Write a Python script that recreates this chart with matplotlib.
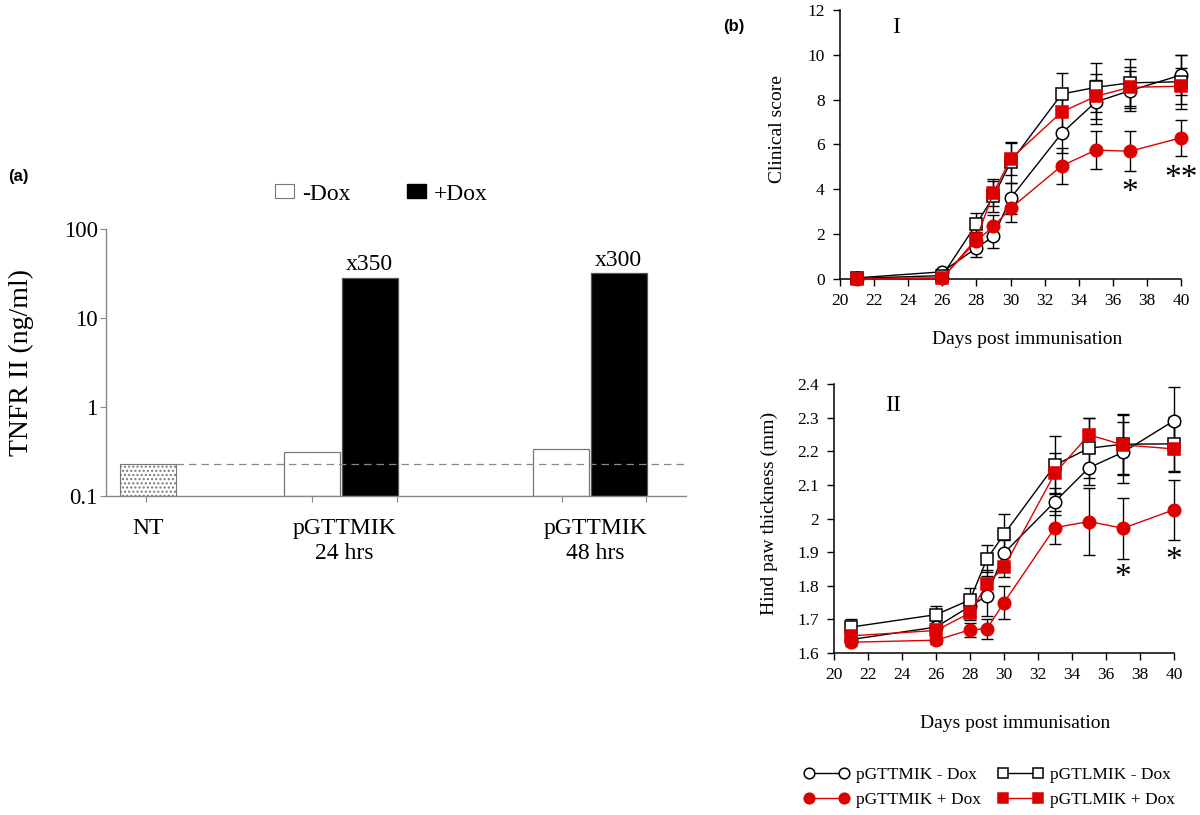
import numpy as np
import matplotlib
matplotlib.use("Agg")
import matplotlib.pyplot as plt
from matplotlib.patches import Patch
from matplotlib.ticker import FixedLocator, FuncFormatter, NullLocator

plt.rcParams["font.family"] = ["Liberation Serif", "DejaVu Serif"]

# ---- panel (a) data ----
groups = ["NT", "pGTTMIK\n24 hrs", "pGTTMIK\n48 hrs"]
nt_value = 0.227
minus_dox = [0.31, 0.336]      # 24 hrs, 48 hrs
plus_dox = [28.1, 31.7]
fold_labels = ["x350", "x300"]
baseline = 0.225

# ---- panel (b) data ----
days = [21, 26, 28, 29, 30, 33, 35, 37, 40]
series_names = ["pGTTMIK - Dox", "pGTTMIK + Dox", "pGTLMIK - Dox", "pGTLMIK + Dox"]

score_ttmik_minus = [0.05, 0.32, 1.38, 1.9, 3.6, 6.5, 7.9, 8.4, 9.1]
score_ttmik_minus_err = [0, 0, 0.4, 0.5, 0.7, 0.9, 1.0, 0.9, 0.9]
score_ttmik_plus = [0.0, 0.05, 1.7, 2.35, 3.15, 5.05, 5.75, 5.7, 6.3]
score_ttmik_plus_err = [0, 0, 0.4, 0.5, 0.6, 0.8, 0.85, 0.9, 0.8]
score_tlmik_minus = [0.03, 0.15, 2.45, 3.68, 5.2, 8.25, 8.55, 8.75, 8.8]
score_tlmik_minus_err = [0, 0, 0.5, 0.7, 0.9, 0.95, 1.1, 1.05, 1.2]
score_tlmik_plus = [0.02, 0.03, 1.8, 3.85, 5.35, 7.45, 8.15, 8.55, 8.6]
score_tlmik_plus_err = [0, 0, 0.5, 0.6, 0.7, 0.9, 1.0, 0.9, 0.8]

paw_ttmik_minus = [1.64, 1.677, 1.739, 1.77, 1.897, 2.05, 2.151, 2.197, 2.291]
paw_ttmik_minus_err = [0.01, 0.01, 0.03, 0.06, 0.04, 0.04, 0.05, 0.09, 0.1]
paw_ttmik_plus = [1.632, 1.638, 1.669, 1.672, 1.75, 1.973, 1.991, 1.971, 2.026]
paw_ttmik_plus_err = [0.01, 0.01, 0.02, 0.03, 0.05, 0.05, 0.1, 0.09, 0.09]
paw_tlmik_minus = [1.677, 1.714, 1.758, 1.88, 1.953, 2.159, 2.209, 2.221, 2.222]
paw_tlmik_minus_err = [0.025, 0.025, 0.035, 0.04, 0.06, 0.085, 0.09, 0.09, 0.08]
paw_tlmik_plus = [1.651, 1.667, 1.719, 1.806, 1.855, 2.135, 2.249, 2.219, 2.207]
paw_tlmik_plus_err = [0.01, 0.02, 0.02, 0.04, 0.03, 0.06, 0.05, 0.09, 0.07]

RED = "#dd0000"

fig = plt.figure(figsize=(12, 8.15), dpi=100)

# ================= panel (a) =================
ax = fig.add_axes([0.0883, 0.3918, 0.4833, 0.3272])
ax.set_yscale("log")
ax.set_ylim(0.1, 100)
ax.set_xlim(0, 10.34)

nt_x = 0.745
white_x = [3.68, 8.12]
black_x = [4.70, 9.14]
group_x = [0.745, 4.25, 8.73]

ax.bar(nt_x, nt_value - 0.1, bottom=0.1, width=1.0, color="white",
       edgecolor="#777777", hatch="....", linewidth=0.8)
ax.bar(white_x, np.array(minus_dox) - 0.1, bottom=0.1, width=1.0,
       color="white", edgecolor="#777777", linewidth=0.9)
ax.bar(black_x, np.array(plus_dox) - 0.1, bottom=0.1, width=1.0,
       color="black", edgecolor="#555555", linewidth=0.9)
ax.plot([nt_x + 0.5, 10.34], [baseline, baseline], color="#888888",
        lw=0.9, ls=(0, (6, 4)))

for bx, val, lab in zip(black_x, plus_dox, fold_labels):
    ax.annotate(lab, (bx, val), xytext=(0, 2), textcoords="offset points",
                ha="center", va="bottom", fontsize=17)

for gx, g in zip(group_x, groups):
    ax.text(gx, -0.085, g, transform=ax.get_xaxis_transform(), ha="center",
            va="top", fontsize=17, linespacing=1.2)

for s in ["top", "right"]:
    ax.spines[s].set_visible(False)
for s in ["left", "bottom"]:
    ax.spines[s].set_color("#888888")
    ax.spines[s].set_linewidth(1.0)
ax.yaxis.set_major_locator(FixedLocator([0.1, 1, 10, 100]))
ax.yaxis.set_minor_locator(NullLocator())
ax.yaxis.set_major_formatter(FuncFormatter(lambda v, p: "%g" % v))
ax.set_xticks([0.71, 3.68, 5.18, 8.13, 9.63])
ax.set_xticklabels([])
ax.tick_params(axis="both", direction="out", length=4, width=0.8, color="#888888",
               labelsize=16.5, pad=2)
fig.text(0.018, 0.555, "TNFR II (ng/ml)", rotation=90, ha="center", va="center",
         fontsize=20)

ax.legend(handles=[Patch(facecolor="white", edgecolor="#777777", lw=0.8),
                   Patch(facecolor="black", edgecolor="black")],
          labels=["-Dox", "+Dox"], ncol=2, frameon=False, fontsize=17,
          handlelength=0.8, handleheight=0.55, handletextpad=0.35,
          columnspacing=2.4, loc="center left",
          bbox_to_anchor=(263 / 1200, 1 - 194 / 815),
          bbox_transform=fig.transFigure, borderpad=0)

fig.text(8 / 1200, 1 - 177 / 815, "(a)", fontsize=12, fontweight="bold",
         family="Liberation Sans", ha="left", va="center")


# ================= panel (b) =================
def style_b(a):
    for s in ["top", "right"]:
        a.spines[s].set_visible(False)
    for s in ["left", "bottom"]:
        a.spines[s].set_linewidth(1.1)
    a.tick_params(axis="both", direction="out", length=5, width=1.0,
                  labelsize=12.5)
    a.tick_params(axis="x", pad=5)
    a.tick_params(axis="y", pad=6)
    a.set_xlim(20, 40)
    a.set_xticks(range(20, 41, 2))


def draw_series(a, ys, errs):
    styles = [
        dict(marker="o", color="black", mfc="white", mec="black"),
        dict(marker="o", color=RED, mfc=RED, mec=RED),
        dict(marker="s", color="black", mfc="white", mec="black"),
        dict(marker="s", color=RED, mfc=RED, mec=RED),
    ]
    for y, e in zip(ys, errs):
        a.errorbar(days, y, yerr=e, fmt="none", ecolor="black", elinewidth=1.0,
                   capsize=4.5, capthick=1.0, clip_on=False, zorder=2)
    handles = []
    for y, st in zip(ys, styles):
        h, = a.plot(days, y, lw=1.0, ms=9, mew=1.1, clip_on=False, zorder=3, **st)
        handles.append(h)
    return handles


axI = fig.add_axes([0.700, 0.6577, 0.2842, 0.330])
draw_series(axI,
            [score_ttmik_minus, score_ttmik_plus, score_tlmik_minus, score_tlmik_plus],
            [score_ttmik_minus_err, score_ttmik_plus_err, score_tlmik_minus_err,
             score_tlmik_plus_err])
style_b(axI)
axI.set_ylim(0, 12)
axI.set_yticks(range(0, 13, 2))
axI.text(23.3, 11.2, "I", fontsize=17, ha="center", va="center")
axI.text(37, 3.85, "*", fontsize=24, ha="center", va="center")
axI.text(40, 4.45, "**", fontsize=24, ha="center", va="center")
fig.text(777 / 1200, 1 - 129 / 815, "Clinical score", rotation=90, ha="center",
         va="center", fontsize=14)
fig.text(1027 / 1200, 1 - 340 / 815, "Days post immunisation", ha="center",
         va="center", fontsize=14)

axII = fig.add_axes([0.695, 0.1988, 0.2833, 0.330])
handles = draw_series(axII,
                      [paw_ttmik_minus, paw_ttmik_plus, paw_tlmik_minus, paw_tlmik_plus],
                      [paw_ttmik_minus_err, paw_ttmik_plus_err, paw_tlmik_minus_err,
                       paw_tlmik_plus_err])
style_b(axII)
axII.set_ylim(1.6, 2.4)
axII.set_yticks(np.round(np.arange(1.6, 2.41, 0.1), 1))
axII.yaxis.set_major_formatter(FuncFormatter(lambda v, p: "%g" % v))
axII.text(23.5, 2.335, "II", fontsize=17, ha="center", va="center")
axII.text(37, 1.825, "*", fontsize=24, ha="center", va="center")
axII.text(40, 1.875, "*", fontsize=24, ha="center", va="center")
fig.text(769 / 1200, 1 - 513 / 815, "Hind paw thickness (mm)", rotation=90,
         ha="center", va="center", fontsize=14)
fig.text(1015 / 1200, 1 - 723 / 815, "Days post immunisation", ha="center",
         va="center", fontsize=14)

fig.legend(handles=handles, labels=series_names, ncol=2, frameon=False,
           fontsize=12.5, numpoints=2, handlelength=2.6, handletextpad=0.4,
           columnspacing=1.0, labelspacing=0.5, markerscale=0.85,
           loc="upper left", bbox_to_anchor=(795 / 1200, 1 - 758 / 815), borderpad=0)

fig.text(723 / 1200, 1 - 27 / 815, "(b)", fontsize=12, fontweight="bold",
         family="Liberation Sans", ha="left", va="center")

fig.savefig("out.png", dpi=100)
